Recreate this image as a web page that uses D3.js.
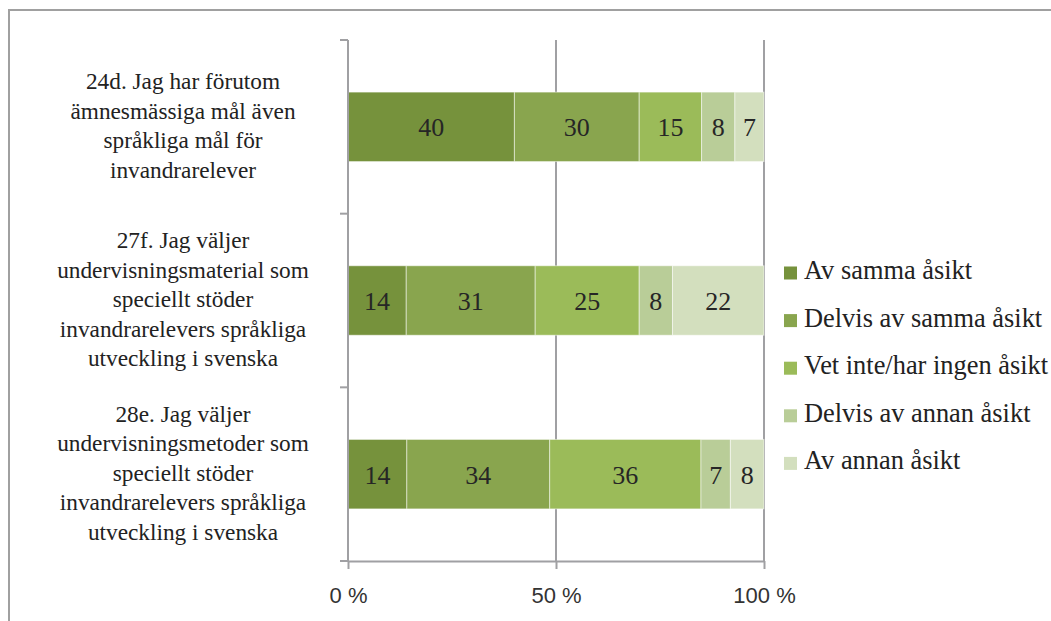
<!DOCTYPE html>
<html>
<head>
<meta charset="utf-8">
<script src="https://cdn.jsdelivr.net/npm/d3@7"></script>
<style>
  body { margin: 0; background: #fff; }
  svg { display: block; }
</style>
</head>
<body>
<div id="vis"></div>
<script>
// chart data
const questions = [
  ['24d. Jag har förutom', 'ämnesmässiga mål även', 'språkliga mål för', 'invandrarelever'],
  ['27f. Jag väljer', 'undervisningsmaterial som', 'speciellt stöder', 'invandrarelevers språkliga', 'utveckling i svenska'],
  ['28e. Jag väljer', 'undervisningsmetoder som', 'speciellt stöder', 'invandrarelevers språkliga', 'utveckling i svenska']
]
const seriesNames = ['Av samma åsikt', 'Delvis av samma åsikt', 'Vet inte/har ingen åsikt', 'Delvis av annan åsikt', 'Av annan åsikt']
const values = [
  [40, 30, 15, 8, 7],
  [14, 31, 25, 8, 22],
  [14, 34, 36, 7, 8]
]
const tickValues = [0, 0.5, 1]
const tickLabels = ['0 %', '50 %', '100 %']
const colors = ['#76923c', '#89a54e', '#9bbb59', '#b9cd98', '#d3dfbe']

const W = 1051, H = 621
const plot = { left: 348, right: 764, top: 40, bottom: 561 }
const serif = '"Liberation Serif", "Times New Roman", serif'

const svg = d3.select('#vis').append('svg')
  .attr('width', W).attr('height', H)

// outer chart border
svg.append('rect')
  .attr('x', 9).attr('y', 10)
  .attr('width', W + 10).attr('height', H + 10)
  .attr('fill', 'none')
  .attr('stroke', '#a0a0a0')
  .attr('stroke-width', 2)

const xScale = d3.scaleLinear().domain([0, 1]).range([plot.left, plot.right])
const yScale = d3.scaleBand()
  .domain(d3.range(questions.length))
  .range([plot.top, plot.bottom])
  .paddingInner(0.6).paddingOuter(0.3)
const yBands = d3.scaleBand().domain(d3.range(questions.length)).range([plot.top, plot.bottom])

// gridlines
svg.append('g')
  .selectAll('line')
  .data(tickValues.slice(1))
  .join('line')
  .attr('x1', d => xScale(d)).attr('x2', d => xScale(d))
  .attr('y1', plot.top).attr('y2', plot.bottom)
  .attr('stroke', '#a0a0a3').attr('stroke-width', 2)

// stacked (normalised to 100 %) data
const rows = values.map((v, i) => {
  const total = d3.sum(v)
  let acc = 0
  return v.map((val, j) => {
    const seg = { row: i, series: j, value: val, x0: acc / total, x1: (acc + val) / total }
    acc += val
    return seg
  })
}).flat()

svg.append('g')
  .selectAll('rect')
  .data(rows)
  .join('rect')
  .attr('x', d => xScale(d.x0))
  .attr('width', d => xScale(d.x1) - xScale(d.x0))
  .attr('y', d => yScale(d.row))
  .attr('height', yScale.bandwidth())
  .attr('fill', d => colors[d.series])
  .attr('stroke', '#ffffff').attr('stroke-opacity', 0.5).attr('stroke-width', 1)

svg.append('g')
  .selectAll('text')
  .data(rows)
  .join('text')
  .attr('x', d => xScale((d.x0 + d.x1) / 2))
  .attr('y', d => yScale(d.row) + yScale.bandwidth() / 2 + 9.5)
  .attr('text-anchor', 'middle')
  .style('font-family', serif)
  .style('font-size', '26px')
  .style('fill', '#262626')
  .text(d => d.value)

// x axis
const xAxis = d3.axisBottom(xScale).tickValues(tickValues)
  .tickFormat((d, i) => tickLabels[i]).tickSize(8).tickSizeOuter(0)
const gx = svg.append('g')
  .attr('transform', `translate(0,${plot.bottom})`)
  .call(xAxis)
gx.select('.domain').attr('stroke', '#a0a0a3').attr('stroke-width', 2)
gx.selectAll('.tick line').attr('stroke', '#a0a0a3').attr('stroke-width', 2)
gx.selectAll('.tick text')
  .attr('y', 42).attr('dy', 0)
  .style('font-family', '"Liberation Sans", Arial, sans-serif')
  .style('font-size', '22px')
  .style('fill', '#333')

// y axis line + category tick marks
svg.append('line')
  .attr('x1', plot.left).attr('x2', plot.left)
  .attr('y1', plot.top).attr('y2', plot.bottom)
  .attr('stroke', '#a0a0a3').attr('stroke-width', 2)
svg.append('g')
  .selectAll('line')
  .data(d3.range(questions.length + 1))
  .join('line')
  .attr('x1', plot.left - 8).attr('x2', plot.left)
  .attr('y1', d => d < questions.length ? yBands(d) : plot.bottom)
  .attr('y2', d => d < questions.length ? yBands(d) : plot.bottom)
  .attr('stroke', '#a0a0a3').attr('stroke-width', 2)

// category labels
const lineH = 29.5
const labels = svg.append('g')
  .selectAll('text')
  .data(questions)
  .join('text')
  .attr('text-anchor', 'middle')
  .style('font-family', serif)
  .style('font-size', '23.3px')
  .style('fill', '#222')
labels.each(function (lines, i) {
  const cy = yBands(i) + yBands.bandwidth() / 2
  const y0 = cy - (lines.length - 1) * lineH / 2 + 6.5
  d3.select(this).selectAll('tspan')
    .data(lines)
    .join('tspan')
    .attr('x', 183)
    .attr('y', (d, k) => y0 + k * lineH)
    .text(d => d)
})

// legend
const legend = svg.append('g')
  .selectAll('g')
  .data(seriesNames)
  .join('g')
  .attr('transform', (d, i) => `translate(784,${273 + i * 47.6})`)
legend.append('rect')
  .attr('x', 0).attr('y', -6.5)
  .attr('width', 13).attr('height', 13)
  .attr('fill', (d, i) => colors[i])
legend.append('text')
  .attr('x', 20).attr('y', 6)
  .style('font-family', serif)
  .style('font-size', '26.4px')
  .style('fill', '#222')
  .text(d => d)
</script>
</body>
</html>
